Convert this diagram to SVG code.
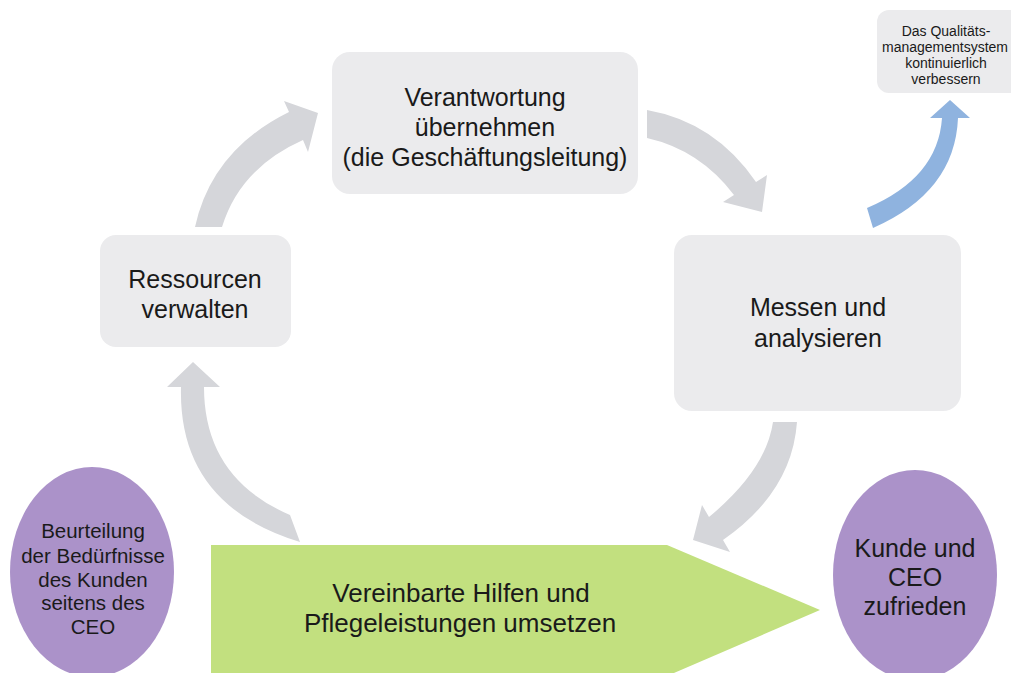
<svg xmlns="http://www.w3.org/2000/svg" width="1011" height="673" viewBox="0 0 1011 673">
<style>
.box{fill:#ebebed;}
.ell{fill:#ab92c9;}
.arr{fill:#d5d6da;}
.blue{fill:#8fb3df;}
.t{font-family:"Liberation Sans",Arial,sans-serif;fill:#1a1a1a;text-anchor:middle;}
</style>
<rect width="1011" height="673" fill="#ffffff"/>
<g id="connectors">
<path class="arr" d="M195,227 Q212,150 289,112 L284,101 L318,113 L308,152 L303,140 Q240,168 222,227 Z"/>
<path class="arr" d="M647,110 Q715,122 756,182 L767,175 L762,212 L723,202 L734,195 Q700,150 647,138 Z"/>
<path class="arr" d="M797,422 Q792,492 723,540 L730,552 L693,540 L702,505 L709,517 Q766,470 773,422 Z"/>
<path class="arr" d="M167,387 L193,362 L220,387 L204,387 Q204,478 290,515 L300,542 Q178,505 181,387 Z"/>
<path class="blue" d="M930,118 L950,100 L970,118 L958,118 Q955,192 873,228 L867,208 Q938,178 942,118 Z"/>
</g>
<g id="node-verantwortung">
<rect class="box" x="332" y="52" width="306" height="142" rx="18"/>
<text class="t" font-size="25" x="485" y="106">Verantwortung</text>
<text class="t" font-size="25" x="485" y="136">übernehmen</text>
<text class="t" font-size="25" x="485" y="166">(die Geschäftungsleitung)</text>
</g>
<g id="node-ressourcen">
<rect class="box" x="100" y="235" width="191" height="112" rx="16"/>
<text class="t" font-size="25" x="195" y="288">Ressourcen</text>
<text class="t" font-size="25" x="195" y="318">verwalten</text>
</g>
<g id="node-messen">
<rect class="box" x="674" y="235" width="287" height="176" rx="18"/>
<text class="t" font-size="25" x="818" y="316">Messen und</text>
<text class="t" font-size="25" x="818" y="347">analysieren</text>
</g>
<g id="node-qms">
<rect class="box" x="877" y="10" width="150" height="83" rx="12"/>
<text class="t" font-size="14" x="946" y="36" fill="#333">Das Qualitäts-</text>
<text class="t" font-size="14" x="945" y="52">managementsystem</text>
<text class="t" font-size="14" x="946" y="68">kontinuierlich</text>
<text class="t" font-size="14" x="946" y="84">verbessern</text>
</g>
<g id="node-umsetzen">
<polygon fill="#c2e07f" points="211,545 667,545 820,610 667,676 211,676"/>
<text class="t" font-size="26" x="461" y="602">Vereinbarte Hilfen und</text>
<text class="t" font-size="26" x="460" y="632">Pflegeleistungen umsetzen</text>
</g>
<g id="node-beurteilung">
<ellipse class="ell" cx="92" cy="572" rx="82" ry="105"/>
<text class="t" font-size="20.5" x="93" y="538">Beurteilung</text>
<text class="t" font-size="20.5" x="93" y="563">der Bedürfnisse</text>
<text class="t" font-size="20.5" x="93" y="587">des Kunden</text>
<text class="t" font-size="20.5" x="93" y="610">seitens des</text>
<text class="t" font-size="20.5" x="93" y="634">CEO</text>
</g>
<g id="node-zufrieden">
<ellipse class="ell" cx="915" cy="575" rx="82" ry="105"/>
<text class="t" font-size="25" x="915" y="557">Kunde und</text>
<text class="t" font-size="25" x="915" y="586">CEO</text>
<text class="t" font-size="25" x="915" y="615">zufrieden</text>
</g>
</svg>
